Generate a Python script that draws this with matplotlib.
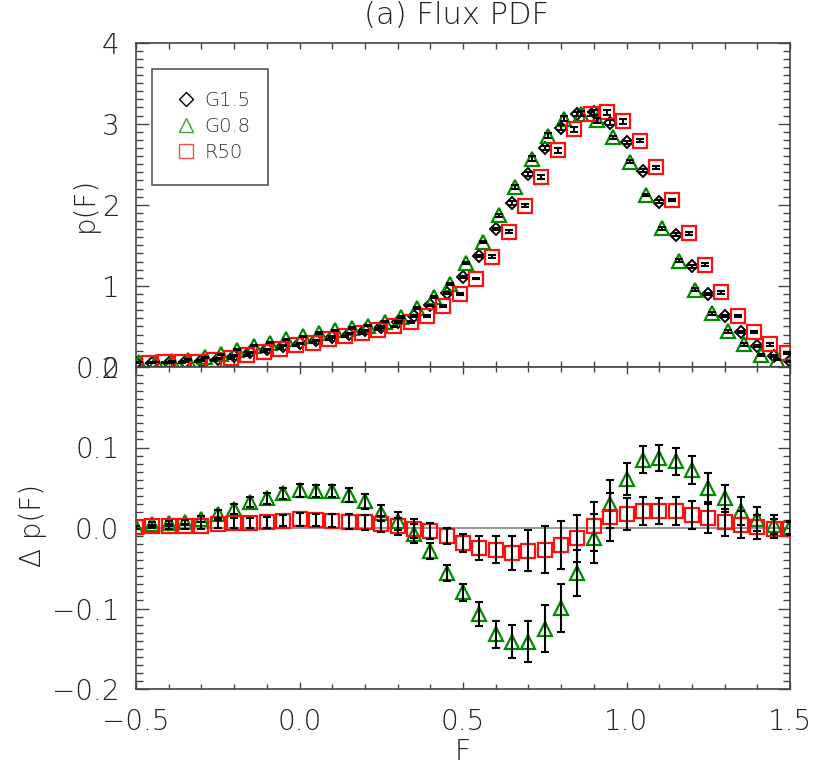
import numpy as np
import matplotlib
matplotlib.use("Agg")
import matplotlib.pyplot as plt
from matplotlib.lines import Line2D
from matplotlib.patches import Rectangle
from matplotlib.ticker import MultipleLocator

plt.rcParams['font.family'] = ['DejaVu Sans']
plt.rcParams['font.weight'] = 'light'

# --- data ---
F = np.round(np.arange(-0.5, 1.5001, 0.05), 2)

p_g15 = [0.05, 0.055, 0.055, 0.065, 0.08, 0.10, 0.14, 0.18, 0.22, 0.26,
         0.29, 0.33, 0.37, 0.41, 0.45, 0.49, 0.55, 0.63, 0.76, 0.91,
         1.11, 1.37, 1.70, 2.02, 2.38, 2.70, 2.95, 3.12, 3.14, 3.01,
         2.77, 2.42, 2.04, 1.63, 1.24, 0.90, 0.63, 0.43, 0.26, 0.13, 0.07]
p_g08 = [0.05, 0.06, 0.06, 0.07, 0.09, 0.12, 0.16, 0.21, 0.26, 0.30,
         0.34, 0.38, 0.42, 0.45, 0.48, 0.51, 0.56, 0.62, 0.73, 0.86,
         1.02, 1.28, 1.54, 1.87, 2.22, 2.57, 2.85, 3.06, 3.12, 3.04,
         2.83, 2.53, 2.12, 1.71, 1.31, 0.95, 0.66, 0.44, 0.28, 0.15, 0.09]
p_r50 = [0.05, 0.057, 0.057, 0.067, 0.083, 0.105, 0.146, 0.186, 0.227, 0.269,
         0.30, 0.34, 0.38, 0.42, 0.46, 0.50, 0.55, 0.63, 0.75, 0.90,
         1.09, 1.36, 1.67, 1.99, 2.34, 2.67, 2.93, 3.12, 3.14, 3.03,
         2.79, 2.46, 2.06, 1.65, 1.26, 0.92, 0.63, 0.43, 0.28, 0.17, 0.08]

d_g08 = [0.001, 0.005, 0.006, 0.007, 0.011, 0.017, 0.024, 0.032, 0.037, 0.043,
         0.047, 0.046, 0.046, 0.041, 0.033, 0.019, 0.009, -0.007, -0.029, -0.056,
         -0.080, -0.107, -0.132, -0.141, -0.141, -0.125, -0.099, -0.056, -0.013, 0.030,
         0.061, 0.085, 0.087, 0.083, 0.072, 0.050, 0.037, 0.021, 0.011, 0.004, 0.001]
d_r50 = [0.001, 0.002, 0.002, 0.002, 0.003, 0.005, 0.006, 0.006, 0.007, 0.009,
         0.011, 0.010, 0.009, 0.008, 0.007, 0.005, 0.002, -0.001, -0.004, -0.010,
         -0.019, -0.025, -0.027, -0.031, -0.028, -0.027, -0.021, -0.013, 0.002, 0.014,
         0.017, 0.021, 0.021, 0.021, 0.016, 0.012, 0.007, 0.004, 0.001, -0.001, -0.001]
err = [0.002, 0.002, 0.003, 0.003, 0.004, 0.005, 0.006, 0.006, 0.007, 0.007,
       0.008, 0.008, 0.008, 0.009, 0.009, 0.010, 0.011, 0.012, 0.010, 0.010,
       0.011, 0.015, 0.017, 0.021, 0.025, 0.029, 0.030, 0.029, 0.030, 0.030,
       0.020, 0.017, 0.016, 0.017, 0.017, 0.018, 0.017, 0.017, 0.015, 0.012, 0.008]

labels = ["G1.5", "G0.8", "R50"]
shift = [0.0, -0.04, 0.04]   # horizontal offsets in the top panel

GREEN = "#008a00"
RED = "#ff1010"
AXC = "#444444"
TXT = "#222222"

fig = plt.figure(figsize=(8.3, 7.77), dpi=100)
W, H = 830, 777
left, right = 136, 790
ax1 = fig.add_axes([left / W, 1 - 367 / H, (right - left) / W, (367 - 42.5) / H])
ax2 = fig.add_axes([left / W, 1 - 689 / H, (right - left) / W, (689 - 367) / H])

mk = {
    "G1.5": dict(marker="D", ms=5.8, mfc="none", mec="black", mew=1.4, ls="none"),
    "G0.8": dict(marker="^", ms=10, mfc="none", mec=GREEN, mew=1.6, ls="none"),
    "R50": dict(marker="s", ms=10, mfc="none", mec=RED, mew=1.6, ls="none"),
}
eb = dict(fmt="none", ecolor="black", elinewidth=1.5, capsize=3, capthick=1.5, zorder=5)

# --- top panel ---
for lab, y, dx in zip(labels, [p_g15, p_g08, p_r50], shift):
    ax1.plot(F + dx, y, **mk[lab], zorder=3)
for y, dx in zip([p_g15, p_g08, p_r50], shift):
    ax1.errorbar(F + dx, y, yerr=err, **eb)

ax1.set_xlim(-0.5, 1.5)
ax1.set_ylim(0, 4)
ax1.yaxis.set_major_locator(MultipleLocator(1))
ax1.yaxis.set_minor_locator(MultipleLocator(0.1))
ax1.xaxis.set_major_locator(MultipleLocator(0.5))
ax1.xaxis.set_minor_locator(MultipleLocator(0.1))
ax1.set_xticklabels([])

# legend
handles = [Line2D([], [], marker="D", ms=7, mfc="none", mec="black", mew=1.0, ls="none"),
           Line2D([], [], marker="^", ms=10, mfc="none", mec="#3aa03a", mew=1.0, ls="none"),
           Line2D([], [], marker="s", ms=10, mfc="none", mec="#f05050", mew=1.0, ls="none")]
ax1.add_patch(Rectangle((16 / 654, (367 - 185) / 324.5), 116 / 654, 116 / 324.5,
                        transform=ax1.transAxes, fill=False, ec="#555555", lw=1.2, zorder=6))
leg = ax1.legend(handles, labels, loc="center", bbox_to_anchor=(0.118, 0.742),
                 frameon=False, fontsize=14, handlelength=1.0, handletextpad=0.45,
                 labelspacing=0.35, borderpad=0.2)
for t in leg.get_texts():
    t.set_color("#333333")

# --- bottom panel ---
ax2.axhline(0, color="#999999", lw=1.5, zorder=1)
ax2.plot(F, d_g08, **mk["G0.8"], zorder=3)
ax2.plot(F, d_r50, **mk["R50"], zorder=3)
ax2.errorbar(F, d_g08, yerr=err, **eb)
ax2.errorbar(F, d_r50, yerr=err, **eb)

ax2.set_xlim(-0.5, 1.5)
ax2.set_ylim(-0.2, 0.2)
ax2.yaxis.set_major_locator(MultipleLocator(0.1))
ax2.yaxis.set_minor_locator(MultipleLocator(0.01))
ax2.xaxis.set_major_locator(MultipleLocator(0.5))
ax2.xaxis.set_minor_locator(MultipleLocator(0.1))
ax2.set_yticks([-0.2, -0.1, 0.0, 0.1, 0.2])
ax2.set_yticklabels(["\u22120.2", "\u22120.1", "0.0", "0.1", "0.2"])
ax2.set_xticks([-0.5, 0.0, 0.5, 1.0, 1.5])
ax2.set_xticklabels(["\u22120.5", "0.0", "0.5", "1.0", "1.5"])

for ax in (ax1, ax2):
    for s in ax.spines.values():
        s.set_color(AXC)
        s.set_linewidth(1.2)
    ax.tick_params(which="both", direction="in", top=True, right=True,
                   color=AXC, width=1.0, labelsize=20, labelcolor=TXT)
    ax.tick_params(axis="y", which="major", length=9, pad=12)
    ax.tick_params(axis="y", which="minor", length=5)
    ax.tick_params(axis="x", which="major", length=5, pad=14)
    ax.tick_params(axis="x", which="minor", length=3.5)

ax1.tick_params(axis="x", which="both", length=4.5)

fig.text(457 / W, 1 - 16 / H, "(a) Flux PDF", ha="center", va="center", fontsize=22, color=TXT)
fig.text(463 / W, 1 - 752 / H, "F", ha="center", va="center", fontsize=20, color=TXT)
fig.text(85 / W, 1 - 204 / H, "p(F)", ha="center", va="center", rotation=90, fontsize=20, color=TXT)
fig.text(33 / W, 1 - 525 / H, "\u0394 p(F)", ha="center", va="center", rotation=90, fontsize=20, color=TXT)

fig.savefig("out.png", dpi=100)
